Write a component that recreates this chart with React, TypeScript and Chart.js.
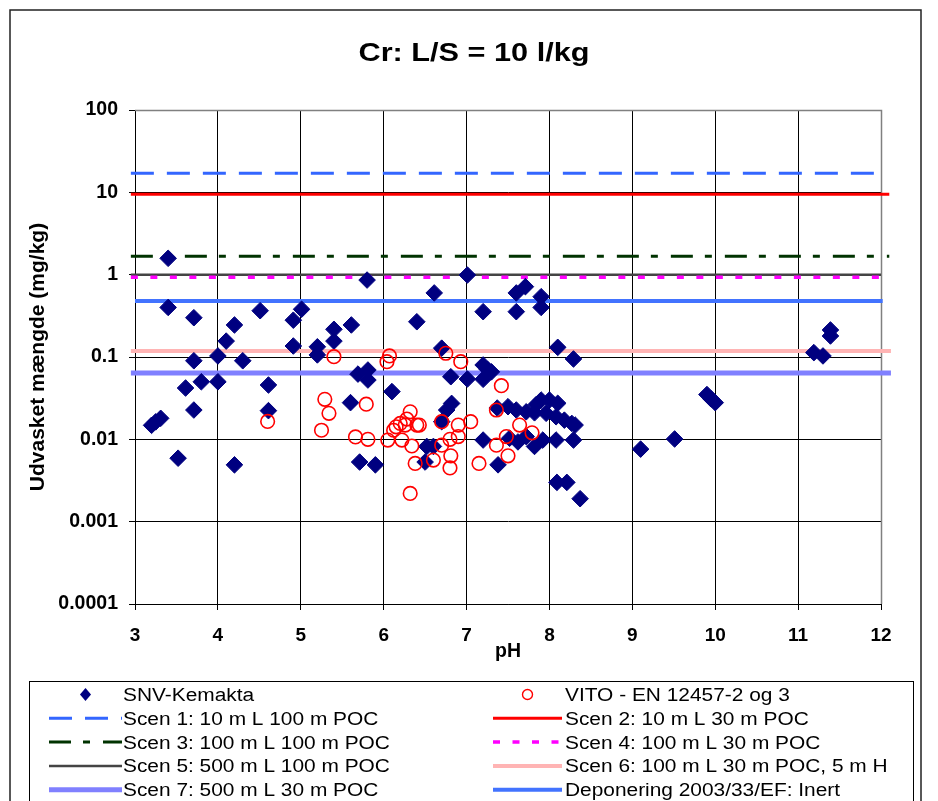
import React, { useEffect, useRef } from 'react';
import { Chart, registerables } from 'chart.js';

Chart.register(...registerables);

const FONT = '"Liberation Sans", Arial, sans-serif';

// ---- text ----
const TITLE = 'Cr: L/S = 10 l/kg';
const X_TITLE = 'pH';
const Y_TITLE = 'Udvasket mængde (mg/kg)';

// ---- axes ----
const X_MIN = 3;
const X_MAX = 12;
const Y_TICKS = [0.0001, 0.001, 0.01, 0.1, 1, 10, 100];
const Y_TICK_LABELS = ['0.0001', '0.001', '0.01', '0.1', '1', '10', '100'];

// ---- SNV-Kemakta measurements ----
const SNV_LABEL = 'SNV-Kemakta';
const SNV_PH = [
  3.40, 3.40, 3.71, 4.20, 4.51, 5.01, 4.91, 4.10, 3.71, 4.00,
  4.30, 4.91, 5.20, 5.20, 5.40, 5.40, 5.61, 5.80, 3.61, 3.80,
  4.00, 3.71, 4.61, 4.61, 3.20, 3.25, 3.31, 3.52, 4.20, 5.71,
  5.90, 5.60, 5.69, 5.81, 5.81, 6.10, 7.01, 6.61, 7.60, 7.71,
  7.90, 7.90, 7.60, 7.20, 6.40, 8.10, 8.29, 6.70, 7.20, 7.25,
  7.30, 7.20, 6.81, 7.01, 6.82, 6.76, 6.70, 7.37, 7.50, 7.60,
  7.72, 7.84, 7.90, 8.00, 8.10, 7.96, 8.08, 8.18, 8.27, 8.31,
  7.52, 7.62, 7.72, 7.82, 7.92, 8.08, 8.29, 7.20, 7.38, 8.09,
  8.21, 8.37, 6.52, 6.60, 6.50, 9.10, 9.51, 9.90, 9.95, 10.00,
  11.39, 11.39, 11.19, 11.30, 7.82,
];
const SNV_VALUES = [
  1.58, 0.40, 0.30, 0.245, 0.365, 0.38, 0.28, 0.156, 0.090, 0.103,
  0.090, 0.136, 0.133, 0.106, 0.217, 0.156, 0.245, 0.86, 0.042, 0.050,
  0.050, 0.0227, 0.0457, 0.0223, 0.0148, 0.0163, 0.018, 0.0059, 0.0049, 0.0053,
  0.0049, 0.0279, 0.062, 0.0695, 0.0525, 0.038, 0.99, 0.60, 0.60, 0.715,
  0.54, 0.40, 0.355, 0.355, 0.268, 0.131, 0.0946, 0.128, 0.080, 0.071,
  0.066, 0.0536, 0.0576, 0.054, 0.0273, 0.0227, 0.0164, 0.024, 0.0249, 0.0227,
  0.0216, 0.0264, 0.030, 0.030, 0.0274, 0.0207, 0.0188, 0.0171, 0.0156, 0.0149,
  0.0103, 0.0093, 0.0108, 0.0082, 0.0098, 0.0098, 0.0098, 0.0098, 0.0049, 0.0030,
  0.0030, 0.0019, 0.0082, 0.0082, 0.0053, 0.0076, 0.0101, 0.035, 0.031, 0.0279,
  0.213, 0.18, 0.113, 0.103, 0.021,
];

// ---- VITO measurements ----
const VITO_LABEL = 'VITO - EN 12457-2 og 3';
const VITO_PH = [
  4.60, 5.40, 5.29, 5.34, 5.25, 5.79, 5.66, 5.81, 6.07, 6.04,
  6.05, 6.75, 6.93, 7.42, 6.32, 6.28, 6.20, 6.26, 6.15, 6.40,
  6.43, 6.12, 6.22, 6.34, 6.70, 6.90, 7.05, 6.90, 6.80, 6.70,
  6.81, 6.80, 6.60, 6.38, 7.15, 7.36, 7.36, 7.48, 7.50, 7.64,
  7.79, 6.32,
];
const VITO_VALUES = [
  0.0165, 0.101, 0.0306, 0.0207, 0.0129, 0.0267, 0.0107, 0.0100, 0.103, 0.0877,
  0.0098, 0.111, 0.0877, 0.0448, 0.0216, 0.0176, 0.0156, 0.0149, 0.0142, 0.0149,
  0.0149, 0.0129, 0.0098, 0.0083, 0.0164, 0.0149, 0.0164, 0.0108, 0.0100, 0.0085,
  0.0063, 0.0045, 0.0056, 0.0051, 0.0051, 0.0227, 0.0085, 0.0108, 0.0063, 0.0149,
  0.0120, 0.0022,
];

// ---- limit values (horizontal reference lines) ----
const LIMIT_LABELS = [
  'Scen 1: 10 m L 100 m POC',
  'Scen 2: 10 m L 30 m POC',
  'Scen 3: 100 m L 100 m POC',
  'Scen 4: 100 m L 30 m POC',
  'Scen 5: 500 m L 100 m POC',
  'Scen 6: 100 m L 30 m POC, 5 m H',
  'Scen 7: 500 m L 30 m POC',
  'Deponering 2003/33/EF: Inert',
];
const LIMIT_VALUES = [17, 9.5, 1.67, 0.93, 1.0, 0.118, 0.064, 0.48];

// line appearance for each limit
const LIMIT_STYLES = [
  { color: '#3366FF', width: 3, dash: [23, 13], span: [2.95, 12.03] },
  { color: '#FF0000', width: 3, dash: [], span: [2.95, 12.1] },
  { color: '#003300', width: 3, dash: [22, 12, 7, 13], span: [2.95, 12.1] },
  { color: '#FF00FF', width: 3.5, dash: [7, 12.5], span: [2.95, 12.1] },
  { color: '#444444', width: 2.5, dash: [], span: [2.95, 12.0] },
  { color: '#FFB4B4', width: 4, dash: [], span: [2.95, 12.12] },
  { color: '#8080FF', width: 5, dash: [], span: [2.95, 12.12] },
  { color: '#4273FF', width: 4, dash: [], span: [3.0, 12.02] },
];

// ---- legend layout ----
const LEGEND_BOX = { left: 29, top: 681, right: 913 };
const LEGEND_COLUMNS = [
  { x0: 49, x1: 122, text: 123 },
  { x0: 493, x1: 562, text: 565 },
];
const LEGEND_FIRST_BASELINE = 701;
const LEGEND_ROW_STEP = 23.8;
const TEXT_STRETCH = 1.16;

function drawStretchedText(
  ctx: CanvasRenderingContext2D,
  text: string,
  x: number,
  y: number,
  font: string,
  stretch: number,
  align: CanvasTextAlign,
) {
  ctx.save();
  ctx.translate(x, y);
  ctx.scale(stretch, 1);
  ctx.font = font;
  ctx.textAlign = align;
  ctx.textBaseline = 'alphabetic';
  ctx.fillStyle = '#000';
  ctx.fillText(text, 0, 0);
  ctx.restore();
}

const framePlugin = {
  id: 'frameAndLegend',
  beforeDatasetsDraw(chart: any) {
    const { ctx, chartArea } = chart;
    const { left, top, right, bottom } = chartArea;
    ctx.save();
    ctx.strokeStyle = '#808080';
    ctx.lineWidth = 1.5;
    ctx.beginPath();
    ctx.moveTo(left, Math.round(top) + 0.5);
    ctx.lineTo(Math.round(right) + 0.5, Math.round(top) + 0.5);
    ctx.lineTo(Math.round(right) + 0.5, bottom);
    ctx.stroke();
    ctx.restore();
  },
  afterDraw(chart: any) {
    const { ctx } = chart;
    ctx.save();

    // outer chart frame
    ctx.strokeStyle = '#222';
    ctx.lineWidth = 1.5;
    ctx.strokeRect(10, 10, 911, 900);

    // title
    drawStretchedText(ctx, TITLE, 474, 61, `bold 26px ${FONT}`, 1.18, 'center');

    // legend frame
    ctx.strokeStyle = '#000';
    ctx.lineWidth = 1;
    ctx.strokeRect(
      LEGEND_BOX.left + 0.5,
      LEGEND_BOX.top + 0.5,
      LEGEND_BOX.right - LEGEND_BOX.left,
      300,
    );

    // legend entries, two per row
    chart.data.datasets.forEach((ds: any, i: number) => {
      const col = LEGEND_COLUMNS[i % 2];
      const baseline = LEGEND_FIRST_BASELINE + Math.floor(i / 2) * LEGEND_ROW_STEP;
      const cy = baseline - 6.5;
      const cx = (col.x0 + col.x1) / 2;
      ctx.save();
      if (ds.type === 'line') {
        ctx.strokeStyle = ds.borderColor;
        ctx.lineWidth = ds.borderWidth;
        ctx.setLineDash(ds.borderDash || []);
        ctx.beginPath();
        ctx.moveTo(col.x0, cy);
        ctx.lineTo(col.x1, cy);
        ctx.stroke();
      } else if (ds.pointStyle === 'rectRot') {
        const r = 6.5;
        ctx.fillStyle = ds.backgroundColor;
        ctx.beginPath();
        ctx.moveTo(cx, cy - r);
        ctx.lineTo(cx + r * 0.85, cy);
        ctx.lineTo(cx, cy + r);
        ctx.lineTo(cx - r * 0.85, cy);
        ctx.closePath();
        ctx.fill();
      } else {
        ctx.strokeStyle = ds.borderColor;
        ctx.lineWidth = 1.4;
        ctx.beginPath();
        ctx.arc(cx, cy, 5, 0, Math.PI * 2);
        ctx.stroke();
      }
      ctx.restore();
      drawStretchedText(ctx, ds.label, col.text, baseline, `18px ${FONT}`, TEXT_STRETCH, 'left');
    });

    ctx.restore();
  },
};

function buildConfig(): any {
  const snv = SNV_PH.map((x, i) => ({ x, y: SNV_VALUES[i] }));
  const vito = VITO_PH.map((x, i) => ({ x, y: VITO_VALUES[i] }));

  const limits = LIMIT_LABELS.map((label, i) => {
    const s = LIMIT_STYLES[i];
    return {
      type: 'line',
      label,
      data: [
        { x: s.span[0], y: LIMIT_VALUES[i] },
        { x: s.span[1], y: LIMIT_VALUES[i] },
      ],
      borderColor: s.color,
      backgroundColor: s.color,
      borderWidth: s.width,
      borderDash: s.dash,
      pointRadius: 0,
      fill: false,
      clip: false,
      order: 2,
    };
  });

  return {
    type: 'scatter',
    data: {
      datasets: [
        {
          label: SNV_LABEL,
          data: snv,
          pointStyle: 'rectRot',
          pointRadius: 8.3,
          backgroundColor: '#000080',
          borderColor: '#000080',
          borderWidth: 1,
          order: 1,
        },
        {
          label: VITO_LABEL,
          data: vito,
          pointStyle: 'circle',
          pointRadius: 6.8,
          backgroundColor: 'rgba(0,0,0,0)',
          borderColor: '#FF0000',
          borderWidth: 1.6,
          order: 0,
        },
        ...limits,
      ],
    },
    options: {
      responsive: false,
      animation: false,
      devicePixelRatio: 1,
      layout: { padding: { left: 0, top: 110, right: 57, bottom: 127 } },
      plugins: {
        legend: { display: false },
        title: { display: false },
        tooltip: { enabled: false },
      },
      scales: {
        x: {
          type: 'linear',
          min: X_MIN,
          max: X_MAX,
          afterFit: (s: any) => { s.height = 70; },
          ticks: {
            stepSize: 1,
            padding: 14,
            color: '#000',
            font: { family: FONT, size: 19, weight: 'bold' },
          },
          grid: {
            color: '#000',
            lineWidth: 1,
            drawTicks: true,
            tickLength: 6,
            tickColor: '#000',
          },
          border: { color: '#000', width: 1 },
          title: {
            display: true,
            text: X_TITLE,
            color: '#000',
            font: { family: FONT, size: 19.5, weight: 'bold' },
            padding: { top: 0, bottom: 11 },
          },
        },
        y: {
          type: 'logarithmic',
          min: Y_TICKS[0],
          max: Y_TICKS[Y_TICKS.length - 1],
          afterFit: (s: any) => { s.width = 135; },
          afterBuildTicks: (s: any) => {
            s.ticks = Y_TICKS.map((v) => ({ value: v, major: true }));
          },
          ticks: {
            padding: 11,
            color: '#000',
            font: { family: FONT, size: 19.5, weight: 'bold' },
            callback: (v: number) => {
              const idx = Y_TICKS.findIndex(
                (t) => Math.abs(Math.log10(t) - Math.log10(v)) < 1e-6,
              );
              return idx >= 0 ? Y_TICK_LABELS[idx] : '';
            },
          },
          grid: {
            color: '#000',
            lineWidth: 1,
            drawTicks: true,
            tickLength: 6,
            tickColor: '#000',
          },
          border: { color: '#000', width: 1 },
          title: {
            display: true,
            text: Y_TITLE,
            color: '#000',
            font: { family: FONT, size: 21, weight: 'bold' },
            padding: { top: 25.4, bottom: 0 },
          },
        },
      },
    },
    plugins: [framePlugin],
  };
}

export default function App() {
  const canvasRef = useRef<HTMLCanvasElement>(null);

  useEffect(() => {
    document.body.style.margin = '0';
    const canvas = canvasRef.current;
    if (!canvas) return;
    const chart = new Chart(canvas, buildConfig());
    return () => chart.destroy();
  }, []);

  return (
    <div style={{ width: 938, height: 801, background: '#fff' }}>
      <canvas ref={canvasRef} width={938} height={801} style={{ display: 'block' }} />
    </div>
  );
}
